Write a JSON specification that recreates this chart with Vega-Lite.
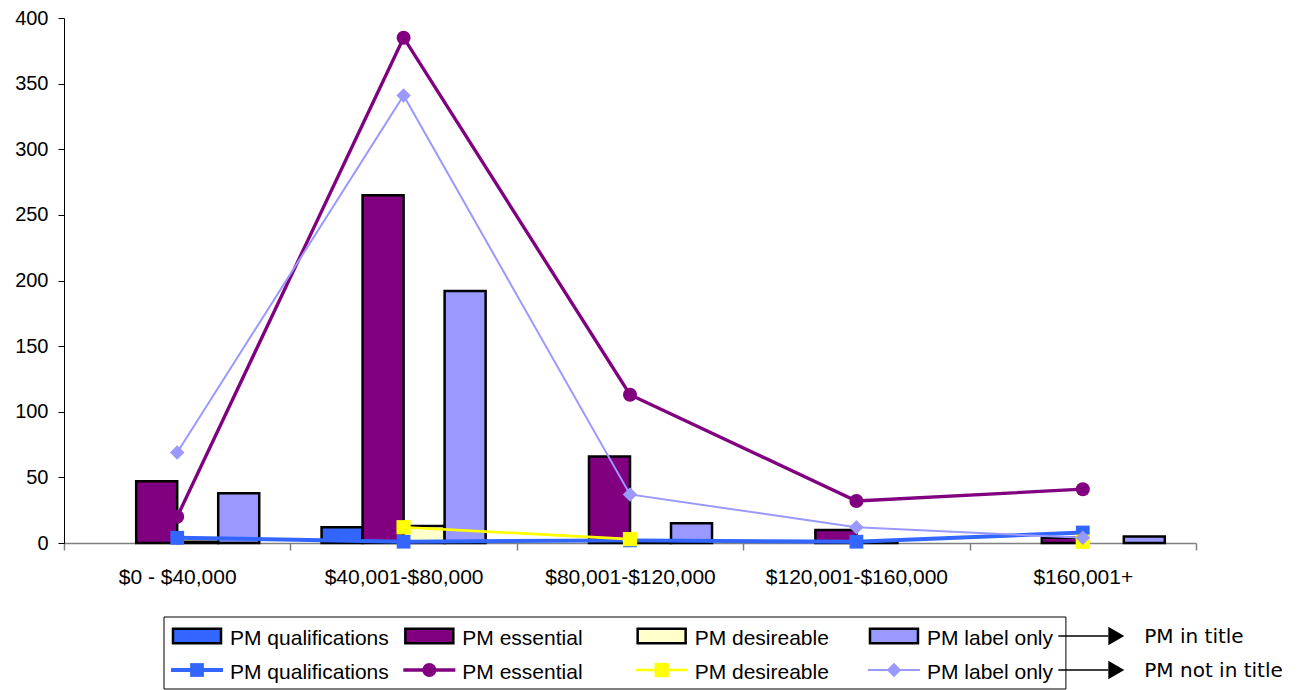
{
  "$schema": "https://vega.github.io/schema/vega-lite/v6.json",
  "background": "white",
  "padding": {"left": 14, "top": 8, "right": 5, "bottom": 0},
  "bounds": "flush",
  "spacing": 74,
  "resolve": {"scale": {"x": "independent", "y": "independent"}},
  "config": {
    "view": {"stroke": null},
    "font": "Liberation Sans",
    "text": {"font": "Liberation Sans"}
  },
  "datasets": {
    "bars": [
      {"category": "$0 - $40,000", "series": "PM essential", "value": 47},
      {"category": "$0 - $40,000", "series": "PM desireable", "value": 1},
      {"category": "$0 - $40,000", "series": "PM label only", "value": 38},
      {"category": "$40,001-$80,000", "series": "PM qualifications", "value": 12},
      {"category": "$40,001-$80,000", "series": "PM essential", "value": 265},
      {"category": "$40,001-$80,000", "series": "PM desireable", "value": 13},
      {"category": "$40,001-$80,000", "series": "PM label only", "value": 192},
      {"category": "$80,001-$120,000", "series": "PM essential", "value": 66},
      {"category": "$80,001-$120,000", "series": "PM desireable", "value": 1},
      {"category": "$80,001-$120,000", "series": "PM label only", "value": 15},
      {"category": "$120,001-$160,000", "series": "PM essential", "value": 10},
      {"category": "$120,001-$160,000", "series": "PM desireable", "value": 1},
      {"category": "$160,001+", "series": "PM essential", "value": 4},
      {"category": "$160,001+", "series": "PM label only", "value": 5}
    ],
    "lines": [
      {"category": "$0 - $40,000", "series": "PM qualifications", "value": 4},
      {"category": "$40,001-$80,000", "series": "PM qualifications", "value": 1},
      {"category": "$80,001-$120,000", "series": "PM qualifications", "value": 2},
      {"category": "$120,001-$160,000", "series": "PM qualifications", "value": 1},
      {"category": "$160,001+", "series": "PM qualifications", "value": 8},
      {"category": "$0 - $40,000", "series": "PM essential", "value": 20},
      {"category": "$40,001-$80,000", "series": "PM essential", "value": 385},
      {"category": "$80,001-$120,000", "series": "PM essential", "value": 113},
      {"category": "$120,001-$160,000", "series": "PM essential", "value": 32},
      {"category": "$160,001+", "series": "PM essential", "value": 41},
      {"category": "$0 - $40,000", "series": "PM desireable", "value": null},
      {"category": "$40,001-$80,000", "series": "PM desireable", "value": 12},
      {"category": "$80,001-$120,000", "series": "PM desireable", "value": 3},
      {"category": "$120,001-$160,000", "series": "PM desireable", "value": null},
      {"category": "$160,001+", "series": "PM desireable", "value": 1},
      {"category": "$0 - $40,000", "series": "PM label only", "value": 69},
      {"category": "$40,001-$80,000", "series": "PM label only", "value": 341},
      {"category": "$80,001-$120,000", "series": "PM label only", "value": 37},
      {"category": "$120,001-$160,000", "series": "PM label only", "value": 12},
      {"category": "$160,001+", "series": "PM label only", "value": 4}
    ],
    "legendItems": [
      {"series": "PM qualifications", "col": 0, "row": 0},
      {"series": "PM essential", "col": 1, "row": 0},
      {"series": "PM desireable", "col": 2, "row": 0},
      {"series": "PM label only", "col": 3, "row": 0},
      {"series": "PM qualifications", "col": 0, "row": 1},
      {"series": "PM essential", "col": 1, "row": 1},
      {"series": "PM desireable", "col": 2, "row": 1},
      {"series": "PM label only", "col": 3, "row": 1}
    ],
    "notes": [
      {"row": 0, "note": "PM in title"},
      {"row": 1, "note": "PM not in title"}
    ]
  },
  "vconcat": [
    {
      "width": 1132,
      "height": 525,
      "encoding": {
        "x": {
          "field": "category", "type": "nominal",
          "sort": ["$0 - $40,000", "$40,001-$80,000", "$80,001-$120,000", "$120,001-$160,000", "$160,001+"],
          "scale": {"domain": ["$0 - $40,000", "$40,001-$80,000", "$80,001-$120,000", "$120,001-$160,000", "$160,001+"], "paddingInner": 0, "paddingOuter": 0},
          "axis": {
            "title": null, "labelAngle": 0, "labelFontSize": 21, "labelColor": "black",
            "labelFont": "Liberation Sans", "domainColor": "#808080", "domainWidth": 1.5,
            "tickColor": "#808080", "tickWidth": 1.5, "tickSize": 7, "tickBand": "extent",
            "labelPadding": 16, "grid": false, "labelLimit": 400, "labelOverlap": false
          }
        },
        "y": {
          "field": "value", "type": "quantitative",
          "scale": {"domain": [0, 400], "nice": false},
          "axis": {
            "title": null, "values": [0, 50, 100, 150, 200, 250, 300, 350, 400],
            "labelFontSize": 20, "labelColor": "black", "labelFont": "Liberation Sans",
            "domainColor": "black", "tickColor": "black", "tickSize": 6,
            "labelPadding": 10, "grid": false
          }
        }
      },
      "layer": [
        {
          "data": {"name": "bars"},
          "mark": {"type": "bar", "stroke": "black", "strokeWidth": 2.5},
          "encoding": {
            "xOffset": {
              "field": "series", "type": "nominal",
              "scale": {"domain": ["PM qualifications", "PM essential", "PM desireable", "PM label only"], "paddingInner": 0, "paddingOuter": 0.76}
            },
            "fill": {
              "field": "series", "type": "nominal",
              "scale": {"domain": ["PM qualifications", "PM essential", "PM desireable", "PM label only"], "range": ["#3366FF", "#800080", "#FFFFCC", "#9999FF"]},
              "legend": null
            }
          }
        },
        {
          "data": {"name": "lines"},
          "mark": {"type": "line", "invalid": "break-paths-show-domains"},
          "encoding": {
            "color": {
              "field": "series", "type": "nominal",
              "scale": {"domain": ["PM qualifications", "PM essential", "PM desireable", "PM label only"], "range": ["#3366FF", "#800080", "#FFFF00", "#9999FF"]},
              "legend": null
            },
            "strokeWidth": {
              "field": "series", "type": "ordinal",
              "scale": {"domain": ["PM qualifications", "PM essential", "PM desireable", "PM label only"], "range": [4, 2, 2, 2]},
              "legend": null
            }
          }
        },
        {
          "data": {"name": "lines"},
          "mark": {"type": "point", "filled": true, "opacity": 1},
          "encoding": {
            "color": {
              "field": "series", "type": "nominal",
              "scale": {"domain": ["PM qualifications", "PM essential", "PM desireable", "PM label only"], "range": ["#3366FF", "#800080", "#FFFF00", "#9999FF"]},
              "legend": null
            },
            "shape": {
              "field": "series", "type": "nominal",
              "scale": {"domain": ["PM qualifications", "PM essential", "PM desireable", "PM label only"], "range": ["square", "circle", "square", "diamond"]},
              "legend": null
            },
            "size": {
              "field": "series", "type": "ordinal",
              "scale": {"domain": ["PM qualifications", "PM essential", "PM desireable", "PM label only"], "range": [190, 210, 190, 260]},
              "legend": null
            }
          }
        }
      ]
    },
    {
      "width": 1132,
      "height": 72,
      "layer": [
        {
          "data": {"values": [{}]},
          "mark": {"type": "rect", "fill": "white", "stroke": "black", "strokeWidth": 1},
          "encoding": {
            "x": {"datum": -0.142, "type": "quantitative", "scale": {"domain": [-0.5725, 4.3], "nice": false, "zero": false}, "axis": null},
            "x2": {"datum": 3.74}
          }
        },
        {
          "data": {"name": "legendItems"},
          "transform": [{"filter": "datum.row == 0"}],
          "mark": {"type": "point", "shape": "M-1,-0.3H1V0.3H-1Z", "size": 2304, "filled": true, "opacity": 1, "stroke": "black", "strokeWidth": 2.5},
          "encoding": {
            "x": {"field": "col", "type": "quantitative", "scale": {"domain": [-0.5725, 4.3], "nice": false, "zero": false}, "axis": null},
            "y": {"field": "row", "type": "quantitative", "scale": {"domain": [-0.5588, 1.5588], "nice": false, "zero": false, "reverse": true}, "axis": null},
            "fill": {
              "field": "series", "type": "nominal",
              "scale": {"domain": ["PM qualifications", "PM essential", "PM desireable", "PM label only"], "range": ["#3366FF", "#800080", "#FFFFCC", "#9999FF"]},
              "legend": null
            }
          }
        },
        {
          "data": {"name": "legendItems"},
          "transform": [{"filter": "datum.row == 1"}],
          "mark": {"type": "rule", "xOffset": -26, "x2Offset": 26},
          "encoding": {
            "x": {"field": "col", "type": "quantitative", "scale": {"domain": [-0.5725, 4.3], "nice": false, "zero": false}, "axis": null},
            "x2": {"field": "col"},
            "y": {"field": "row", "type": "quantitative", "scale": {"domain": [-0.5588, 1.5588], "nice": false, "zero": false, "reverse": true}, "axis": null},
            "color": {
              "field": "series", "type": "nominal",
              "scale": {"domain": ["PM qualifications", "PM essential", "PM desireable", "PM label only"], "range": ["#3366FF", "#800080", "#FFFF00", "#9999FF"]},
              "legend": null
            },
            "strokeWidth": {
              "field": "series", "type": "ordinal",
              "scale": {"domain": ["PM qualifications", "PM essential", "PM desireable", "PM label only"], "range": [4, 2, 2, 2]},
              "legend": null
            }
          }
        },
        {
          "data": {"name": "legendItems"},
          "transform": [{"filter": "datum.row == 1"}],
          "mark": {"type": "point", "filled": true, "opacity": 1},
          "encoding": {
            "x": {"field": "col", "type": "quantitative", "scale": {"domain": [-0.5725, 4.3], "nice": false, "zero": false}, "axis": null},
            "y": {"field": "row", "type": "quantitative", "scale": {"domain": [-0.5588, 1.5588], "nice": false, "zero": false, "reverse": true}, "axis": null},
            "color": {
              "field": "series", "type": "nominal",
              "scale": {"domain": ["PM qualifications", "PM essential", "PM desireable", "PM label only"], "range": ["#3366FF", "#800080", "#FFFF00", "#9999FF"]},
              "legend": null
            },
            "shape": {
              "field": "series", "type": "nominal",
              "scale": {"domain": ["PM qualifications", "PM essential", "PM desireable", "PM label only"], "range": ["square", "circle", "square", "diamond"]},
              "legend": null
            },
            "size": {
              "field": "series", "type": "ordinal",
              "scale": {"domain": ["PM qualifications", "PM essential", "PM desireable", "PM label only"], "range": [190, 210, 190, 260]},
              "legend": null
            }
          }
        },
        {
          "data": {"name": "legendItems"},
          "mark": {"type": "text", "align": "left", "baseline": "middle", "dx": 33, "dy": 3, "fontSize": 21, "font": "Liberation Sans", "color": "black"},
          "encoding": {
            "x": {"field": "col", "type": "quantitative", "scale": {"domain": [-0.5725, 4.3], "nice": false, "zero": false}, "axis": null},
            "y": {"field": "row", "type": "quantitative", "scale": {"domain": [-0.5588, 1.5588], "nice": false, "zero": false, "reverse": true}, "axis": null},
            "text": {"field": "series"}
          }
        },
        {
          "data": {"name": "notes"},
          "mark": {"type": "rule", "color": "black", "strokeWidth": 1.5, "xOffset": -68, "x2Offset": -18},
          "encoding": {
            "x": {"datum": 4, "type": "quantitative", "scale": {"domain": [-0.5725, 4.3], "nice": false, "zero": false}, "axis": null},
            "x2": {"datum": 4},
            "y": {"field": "row", "type": "quantitative", "scale": {"domain": [-0.5588, 1.5588], "nice": false, "zero": false, "reverse": true}, "axis": null}
          }
        },
        {
          "data": {"name": "notes"},
          "mark": {"type": "point", "shape": "triangle-right", "size": 340, "filled": true, "opacity": 1, "color": "black", "xOffset": -10},
          "encoding": {
            "x": {"datum": 4, "type": "quantitative", "scale": {"domain": [-0.5725, 4.3], "nice": false, "zero": false}, "axis": null},
            "y": {"field": "row", "type": "quantitative", "scale": {"domain": [-0.5588, 1.5588], "nice": false, "zero": false, "reverse": true}, "axis": null}
          }
        },
        {
          "data": {"name": "notes"},
          "mark": {"type": "text", "align": "left", "baseline": "middle", "dx": 18, "dy": 1, "fontSize": 20, "font": "DejaVu Sans", "color": "black"},
          "encoding": {
            "x": {"datum": 4, "type": "quantitative", "scale": {"domain": [-0.5725, 4.3], "nice": false, "zero": false}, "axis": null},
            "y": {"field": "row", "type": "quantitative", "scale": {"domain": [-0.5588, 1.5588], "nice": false, "zero": false, "reverse": true}, "axis": null},
            "text": {"field": "note"}
          }
        }
      ]
    }
  ]
}
